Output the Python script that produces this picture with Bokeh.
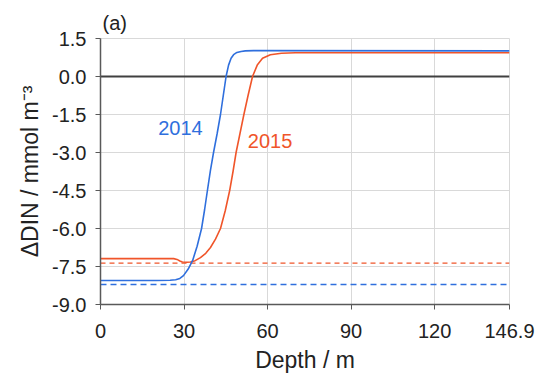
from bokeh.plotting import figure
from bokeh.models import Range1d, FixedTicker, CustomJSTickFormatter, ColumnDataSource, Title
from bokeh.core.properties import value
from bokeh.embed import file_html
from bokeh.resources import INLINE

# ---- data ----
depth_2014 = [0, 20, 25, 27, 28.5, 29.8, 31.5, 33.1, 34.7, 36.3, 37.4, 38.4, 39.5, 40.6,
              41.9, 43.1, 44.1, 45.1, 46.0, 46.9, 47.8, 49.0, 50.5, 52.0, 55.0, 146.9]
din_2014 = [-8.05, -8.05, -8.04, -8.02, -7.97, -7.86, -7.6, -7.26, -6.7, -6.0, -5.25, -4.5,
            -3.7, -3.0, -2.25, -1.5, -0.75, 0.0, 0.45, 0.72, 0.86, 0.95, 0.99, 1.01, 1.02, 1.01]

depth_2015 = [0, 26.3, 27.5, 28.5, 29.4, 31.0, 32.3, 34.0, 35.9, 37.8, 39.5, 41.3, 43.1,
              44.8, 46.4, 47.6, 48.7, 50.1, 51.5, 53.0, 54.6, 56.3, 58.2, 61.0, 65.0, 70.0, 146.9]
din_2015 = [-7.19, -7.19, -7.22, -7.28, -7.32, -7.33, -7.32, -7.27, -7.15, -6.98, -6.75,
            -6.42, -6.0, -5.3, -4.5, -3.75, -3.0, -2.25, -1.5, -0.75, 0.0, 0.45, 0.72,
            0.86, 0.92, 0.94, 0.94]

ref_depth = [0, 146.9]
ref_2014 = [-8.21, -8.21]
ref_2015 = [-7.37, -7.37]

zero_depth = [0, 146.9]
zero_val = [0, 0]

x_ticks = [0, 30, 60, 90, 120, 146.9]
y_ticks = [-9.0, -7.5, -6.0, -4.5, -3.0, -1.5, 0.0, 1.5]

labels_text = ["2014", "2015"]
labels_x = [28.7, 60.9]
labels_y = [-2.05, -2.53]

BLUE = "#2f6fdd"
RED = "#f0552a"
FONT = "Liberation Sans"
TXT = "#222222"

panel_title = Title(text="(a)", align="left", offset=2, text_font=FONT,
                    text_font_size="20px", text_font_style="normal", text_color=TXT,
                    standoff=10)

p = figure(width=537, height=376, output_backend="svg", toolbar_location=None,
           title=panel_title,
           x_range=Range1d(0, 146.9), y_range=Range1d(-9.0, 1.5),
           min_border_left=100, min_border_right=28, min_border_top=38, min_border_bottom=72)
p.background_fill_color = "white"
p.border_fill_color = "white"
p.outline_line_color = "#d9d9d9"
p.outline_line_width = 1

p.xaxis.ticker = FixedTicker(ticks=x_ticks)
p.yaxis.ticker = FixedTicker(ticks=y_ticks)
p.xaxis.formatter = CustomJSTickFormatter(code="return tick.toString();")
p.yaxis.formatter = CustomJSTickFormatter(code="return tick.toFixed(1);")

p.xgrid.grid_line_color = "#d9d9d9"
p.ygrid.grid_line_color = "#d9d9d9"
p.xgrid.grid_line_width = 1
p.ygrid.grid_line_width = 1

for ax in (p.xaxis, p.yaxis):
    ax.axis_line_color = "#595959"
    ax.axis_line_width = 1.5
    ax.major_tick_line_color = "#595959"
    ax.major_tick_out = 5
    ax.major_tick_in = 0
    ax.minor_tick_line_color = None
    ax.major_label_text_font = FONT
    ax.major_label_text_font_size = "20px"
    ax.major_label_text_color = TXT
    ax.axis_label_text_font = FONT
    ax.axis_label_text_font_size = "23px"
    ax.axis_label_text_font_style = "normal"
    ax.axis_label_text_color = TXT

p.xaxis.major_label_standoff = 14
p.yaxis.major_label_standoff = 9
p.xaxis.axis_label = "Depth / m"
p.yaxis.axis_label = "ΔDIN / mmol m⁻³"
p.xaxis.axis_label_standoff = 6
p.yaxis.axis_label_standoff = 6

p.line(zero_depth, zero_val, line_color="#404040", line_width=2)
p.line(ref_depth, ref_2015, line_color=RED, line_width=1.2, line_dash="5 4")
p.line(ref_depth, ref_2014, line_color=BLUE, line_width=1.5, line_dash="6 4")
p.line(depth_2015, din_2015, line_color=RED, line_width=1.6)
p.line(depth_2014, din_2014, line_color=BLUE, line_width=1.6)

src = ColumnDataSource(dict(x=labels_x, y=labels_y, t=labels_text, c=[BLUE, RED]))
p.text(x="x", y="y", text="t", text_color="c", source=src, text_align="center",
       text_baseline="middle", text_font=value(FONT), text_font_size="20px")

open("out.html", "w").write(file_html(p, INLINE))
